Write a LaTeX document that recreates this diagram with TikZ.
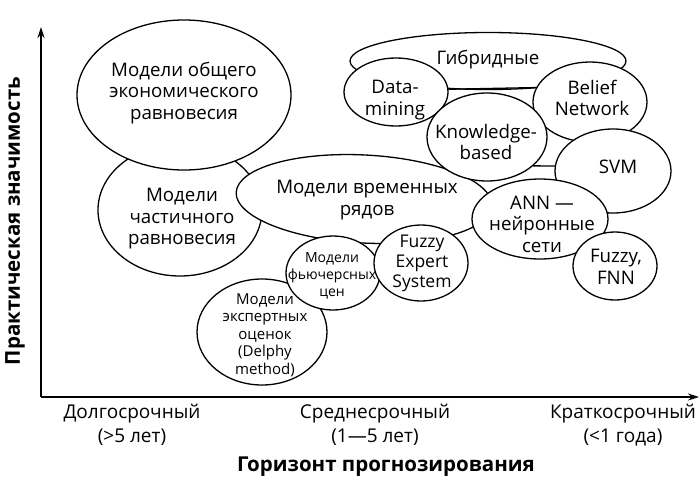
\documentclass[tikz,border=0pt]{standalone}
\usepackage{fontspec}
\setmainfont{Open Sans}
\usetikzlibrary{shapes.geometric,arrows.meta}
\begin{document}
\begin{tikzpicture}[x=1pt,y=-1pt,
  ell/.style={ellipse, draw, line width=1.3pt, fill=white, inner sep=0pt},
  lbl/.style={font=\fontsize{18.7}{21.5}\selectfont, align=center, inner sep=0pt},
  lblm/.style={font=\fontsize{17.5}{20}\selectfont, align=center, inner sep=0pt},
  lbls/.style={font=\fontsize{15}{17.5}\selectfont, align=center, inner sep=0pt},
  lblxs/.style={font=\fontsize{14}{17}\selectfont, align=center, inner sep=0pt},
  tick/.style={font=\fontsize{19}{24}\selectfont, align=center, inner sep=0pt},
  axl/.style={font=\fontsize{20.5}{24}\selectfont\bfseries, inner sep=0pt},
  axis/.style={line width=1.4pt, -{Stealth[length=11pt,width=7pt]}},
  link/.style={line width=1.3pt}
]
\useasboundingbox (0,0) rectangle (699,482);

% axes
\coordinate (O) at (41,397);
\coordinate (Ytop) at (41,27);
\coordinate (Xend) at (699,397);
\draw[axis] (O) -- (Ytop);
\draw[axis] (O) -- (Xend);

\node[axl, rotate=90] (ylab) at (15,221) {Практическая значимость};
\node[axl] (xlab) at (386,467) {Горизонт прогнозирования};

\node[tick] (tl) at (132,425) {Долгосрочный\\(>5 лет)};
\node[tick] (tm) at (375,425) {Среднесрочный\\(1—5 лет)};
\node[tick] (tr) at (623,425) {Краткосрочный\\(<1 года)};

% ellipses (order matters: later ones cover earlier ones)
\node[ell, minimum width=164pt, minimum height=132pt] (e2) at (180,210) {};
\node[lbl] (e2t) at (182,219) {Модели\\частичного\\равновесия};

\node[ell, minimum width=214pt, minimum height=150pt] (e1) at (184,95) {};
\node[lbl] (e1t) at (184,93) {Модели общего\\экономического\\равновесия};

\node[ell, minimum width=256pt, minimum height=88pt, rotate=-3] (ts) at (364,199) {};
\node[lbl] (tst) at (367,200) {Модели временных\\рядов};

\node[ell, minimum width=130pt, minimum height=106pt] (dl) at (262,332) {};
\node[lbls] (dlt) at (265,335) {Модели\\экспертных\\оценок\\(Delphy\\method)};

\node[ell, minimum width=94pt, minimum height=74pt] (fut) at (333,273) {};
\node[lblxs] (futt) at (332,276) {Модели\\фьючерсных\\цен};

\node[ell, minimum width=94pt, minimum height=76pt] (fes) at (421,263) {};
\node[lblm] (fest) at (422,263) {Fuzzy\\Expert\\System};

\node[ell, minimum width=276pt, minimum height=57pt] (hyb) at (488,61) {};
\node[lbl] (hybt) at (488,60) {Гибридные};

\node[ell, minimum width=104pt, minimum height=68pt] (dm) at (396,92) {};
\node[lbl] (dmt) at (395,100) {Data-\\mining};

\node[ell, minimum width=114pt, minimum height=80pt] (bn) at (590,102) {};
\node[lbl] (bnt) at (592,98) {Belief\\Network};

\node[ell, minimum width=116pt, minimum height=84pt] (svm) at (613,171) {};
\node[lbl] (svmt) at (618,167) {SVM};

\node[ell, minimum width=120pt, minimum height=88pt] (kb) at (487,137) {};
\node[lbl] (kbt) at (486,142) {Knowledge-\\based};

\node[ell, minimum width=136pt, minimum height=80pt] (ann) at (540,219) {};
\node[lbl] (annt) at (542,224) {ANN —\\нейронные\\сети};

\node[ell, minimum width=84pt, minimum height=68pt] (fnn) at (615,266) {};
\node[lbl] (fnnt) at (616,267) {Fuzzy,\\FNN};

% connectors
\draw[link] (dm.3) -- (bn.165);
\draw[link] (kb.328) -- (svm.175);
\end{tikzpicture}
\end{document}
